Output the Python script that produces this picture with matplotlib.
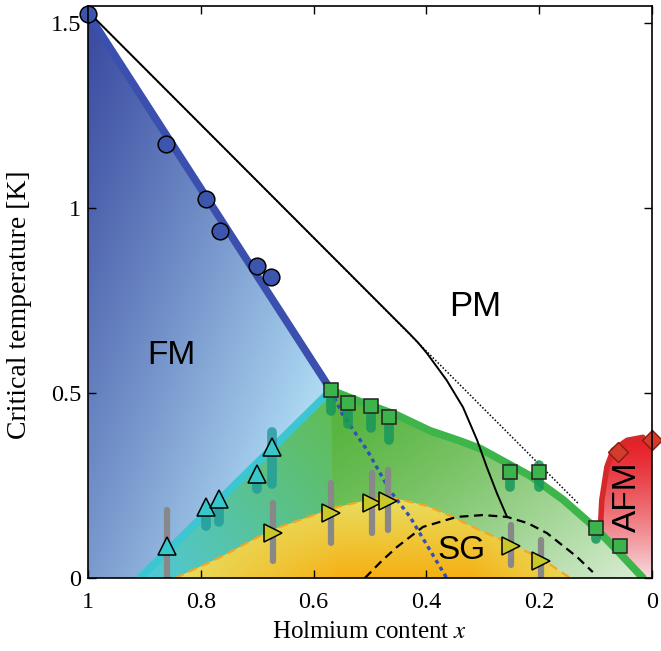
import numpy as np
import matplotlib
matplotlib.use("Agg")
import matplotlib.pyplot as plt
from matplotlib.patches import Polygon

plt.rcParams['mathtext.fontset'] = 'stix'

# ---------------- data ----------------
# FM transition (circles)
fm_x = [1.0, 0.862, 0.791, 0.766, 0.700, 0.676]
fm_T = [1.524, 1.173, 1.025, 0.936, 0.844, 0.812]

# PM -> glassy/green transition (squares) with error spread (ellipses)
sq_x = [0.569, 0.539, 0.498, 0.466, 0.252, 0.200, 0.099, 0.057]
sq_T = [0.507, 0.472, 0.464, 0.434, 0.286, 0.286, 0.135, 0.086]
sq_lo = [0.450, 0.415, 0.405, 0.372, 0.245, 0.245, 0.105, 0.086]
sq_hi = [0.507, 0.472, 0.464, 0.434, 0.300, 0.305, 0.135, 0.086]

# triangles up (cyan)
tu_x = [0.860, 0.791, 0.768, 0.700, 0.674]
tu_T = [0.086, 0.192, 0.213, 0.281, 0.354]
tu_lo = [0.086, 0.140, 0.150, 0.240, 0.255]
tu_hi = [0.086, 0.192, 0.213, 0.281, 0.395]

# right triangles (yellow) with grey error bars
tr_x = [0.672, 0.569, 0.496, 0.468, 0.250, 0.197]
tr_T = [0.121, 0.175, 0.202, 0.208, 0.086, 0.046]
tr_lo = [0.045, 0.094, 0.121, 0.129, 0.035, 0.0]
tr_hi = [0.203, 0.256, 0.283, 0.291, 0.143, 0.103]
# extra grey bar at x=0.860 (with triangle-up)
gb_x = [0.860]
gb_lo = [0.0]
gb_hi = [0.183]

# AFM diamonds
afm_x = [0.060, 0.0]
afm_T = [0.340, 0.372]

# boundaries
fm_line_x = [1.0, 0.569]
fm_line_T = [1.524, 0.507]
cyan_line_x = [0.569, 0.908]
cyan_line_T = [0.507, 0.0]
green_line_x = [0.569, 0.52, 0.452, 0.394, 0.34, 0.305, 0.216, 0.158, 0.098, 0.051, 0.016]
green_line_T = [0.507, 0.478, 0.440, 0.398, 0.370, 0.350, 0.276, 0.212, 0.132, 0.057, 0.0]
sg_x = [0.845, 0.764, 0.676, 0.562, 0.512, 0.477, 0.447, 0.40, 0.364, 0.305, 0.239, 0.193, 0.145]
sg_T = [0.0, 0.057, 0.129, 0.190, 0.208, 0.216, 0.212, 0.195, 0.172, 0.129, 0.084, 0.049, 0.0]
afm_bx = [0.095, 0.092, 0.089, 0.080, 0.069, 0.044, 0.016, 0.0, 0.0]
afm_bT = [0.0, 0.120, 0.210, 0.300, 0.345, 0.372, 0.380, 0.380, 0.0]

mf_x = [1.0, 0.13]          # mean-field dotted line
mf_T = [1.53, 0.20]
solid_x = [1.0, 0.43, 0.415, 0.399, 0.364, 0.335, 0.310, 0.293, 0.275, 0.257]
solid_T = [1.53, 0.66, 0.636, 0.607, 0.534, 0.461, 0.372, 0.300, 0.229, 0.165]
dome_x = [0.509, 0.48, 0.452, 0.406, 0.346, 0.30, 0.257, 0.22, 0.186, 0.133, 0.105]
dome_T = [0.0, 0.045, 0.084, 0.138, 0.165, 0.170, 0.165, 0.148, 0.121, 0.057, 0.016]
bdot_x = [0.569, 0.55, 0.505, 0.465, 0.429, 0.394, 0.364]
bdot_T = [0.507, 0.445, 0.345, 0.237, 0.165, 0.076, 0.0]

xticks = [1, 0.8, 0.6, 0.4, 0.2, 0]
xticklabels = ['1', '0.8', '0.6', '0.4', '0.2', '0']
yticks = [0, 0.5, 1, 1.5]
yticklabels = ['0', '0.5', '1', '1.5']

YMAX = 1.545

# ---------------- figure ----------------
fig = plt.figure(figsize=(6.61, 6.51), dpi=100)
ax = fig.add_axes([88/661, 73/651, 564/661, 572/651])

N = 500
gx = np.linspace(0, 1, N)
gy = np.linspace(0, YMAX, N)
X, Y = np.meshgrid(gx, gy)

def mix(c1, c2, s):
    c1 = np.array(c1) / 255.0
    c2 = np.array(c2) / 255.0
    s = np.clip(s, 0, 1)[..., None]
    return c1 * (1 - s) + c2 * s

def shade(img, verts, z):
    poly = Polygon(verts, closed=True, facecolor='none', edgecolor='none',
                   transform=ax.transData)
    ax.add_patch(poly)
    im = ax.imshow(img, extent=(0, 1, 0, YMAX), origin='lower', aspect='auto',
                   zorder=z, interpolation='bilinear')
    im.set_clip_path(poly)

# FM blue
px = (1 - X) * 564
py = (1.524 - Y) * 370.7
t = (px + 0.4 * py) / 377.0
blue = mix((58, 74, 160), (172, 216, 242), np.clip(t, 0, 1) ** 1.1)
fm_poly = [(1.0, 1.524), (0.569, 0.507), (0.908, 0.0), (1.0, 0.0)]
shade(blue, fm_poly, 1)

# teal region left of 0.569 under cyan line
s = (0.908 - X) / 0.34 * 0.55 + Y / 0.5 * 0.45
teal = mix((80, 200, 218), (98, 188, 80), s)
teal_poly = [(0.569, 0.507), (0.908, 0.0), (0.569, 0.0)]
shade(teal, teal_poly, 1)

# AFM red
s = np.clip((0.38 - Y) / 0.38, 0, 1)
red = mix((230, 30, 38), (248, 218, 222), s ** 1.3)
afm_poly = list(zip(afm_bx, afm_bT))
shade(red, afm_poly, 1)

# green region right of 0.569
s = np.clip(0.55 * (0.569 - X) / 0.55 + 0.4 * (0.45 - Y) / 0.45, 0, 1) ** 1.3
green = mix((86, 180, 62), (226, 241, 222), s)
green_poly = list(zip(green_line_x, green_line_T)) + [(0.569, 0.0)]
shade(green, green_poly, 1.1)

# SG yellow/orange
w = np.clip((0.85 - X) / 0.3, 0, 1) * np.clip((X - 0.12) / 0.2, 0, 1)
s = np.clip((0.215 - Y) / 0.215, 0, 1) * w
sgc = mix((232, 222, 96), (246, 176, 20), s)
sg_poly = list(zip(sg_x, sg_T))
shade(sgc, sg_poly, 1.2)

# lines
ax.plot(mf_x, mf_T, color='black', lw=1.1, ls=(0, (1, 1.3)), zorder=0.9)
ax.plot(fm_line_x, fm_line_T, color='#3a4fae', lw=5.5, solid_capstyle='round', zorder=2)
ax.plot(cyan_line_x, cyan_line_T, color='#3cc6d2', lw=5.5, solid_capstyle='butt', zorder=2)
ax.plot(green_line_x, green_line_T, color='#3db54a', lw=5.5, solid_capstyle='round', zorder=2)
ax.plot(afm_bx[1:7], afm_bT[1:7], color='#d62a2a', lw=4, solid_capstyle='round', zorder=2)
ax.plot(solid_x, solid_T, color='black', lw=1.4, zorder=2.5)
ax.plot(dome_x, dome_T, color='black', lw=1.6, ls=(0, (4, 2.5)), zorder=2.5)
ax.plot(sg_x, sg_T, color='#f5a623', lw=1.6, ls=(0, (4, 2.5)), zorder=2.4)
ax.plot(bdot_x, bdot_T, color='#3450b8', lw=2.4, ls=(0, (1.2, 1.2)), zorder=2.5)

# error indications
for x0, lo, hi in zip(sq_x, sq_lo, sq_hi):
    if hi - lo > 0.001:
        ax.plot([x0, x0], [lo, hi], color='#17975a', alpha=0.85, lw=7,
                solid_capstyle='round', zorder=3)
for x0, lo, hi in zip(tu_x, tu_lo, tu_hi):
    if hi - lo > 0.001:
        ax.plot([x0, x0], [lo, hi], color='#1f9b9b', alpha=0.8, lw=7,
                solid_capstyle='round', zorder=3)
for x0, lo, hi in zip(tr_x + gb_x, tr_lo + gb_lo, tr_hi + gb_hi):
    ax.plot([x0, x0], [lo, hi], color='#888888', lw=4.5,
            solid_capstyle='round', zorder=3)

# markers
ax.plot(fm_x, fm_T, 'o', ms=12, mfc='#3c55ad', mec='black', mew=1.1, zorder=5, clip_on=False)
ax.plot(sq_x, sq_T, 's', ms=10, mfc='#3cb44b', mec='#222222', mew=1.1, zorder=5, clip_on=False)
ax.plot(tu_x, tu_T, '^', ms=13, mfc='#38c8cc', mec='black', mew=1.1, zorder=5, clip_on=False)
ax.plot(tr_x, tr_T, '>', ms=13, mfc='#c8c82a', mec='black', mew=1.1, zorder=5, clip_on=False)
ax.plot(afm_x, afm_T, 'D', ms=10, mfc='#d23c2c', mec='#8a1a10', mew=1.0, zorder=5, clip_on=False)

# region labels
lab = dict(family='Liberation Sans', color='black', ha='center', va='center', zorder=6)
ax.text(0.853, 0.600, 'FM', fontsize=24, **lab)
ax.text(0.314, 0.734, 'PM', fontsize=25, **lab)
ax.text(0.337, 0.075, 'SG', fontsize=24, **lab)
ax.text(0.043, 0.220, 'AFM', fontsize=24, rotation=90, **lab)

# axes cosmetics
ax.set_xlim(1, 0)
ax.set_ylim(0, YMAX)
ax.set_xticks(xticks)
ax.set_xticklabels(xticklabels, family='Liberation Serif', fontsize=17.5)
ax.set_yticks(yticks)
ax.set_yticklabels(yticklabels, family='Liberation Serif', fontsize=17.5)
ax.tick_params(direction='in', length=6, width=1.0, top=True, right=True)
ax.tick_params(axis='x', pad=10)
ax.tick_params(axis='y', pad=5)
for sp in ax.spines.values():
    sp.set_linewidth(1.2)
    sp.set_zorder(10)

ax.set_xlabel('Holmium content $x$', fontsize=18, family='Liberation Serif')
ax.set_ylabel('Critical temperature [K]', fontsize=20, family='Liberation Serif')
ax.xaxis.set_label_coords(0.5, -0.075)
ax.yaxis.set_label_coords(-0.10, 0.478)

fig.savefig('out.png', dpi=100)
